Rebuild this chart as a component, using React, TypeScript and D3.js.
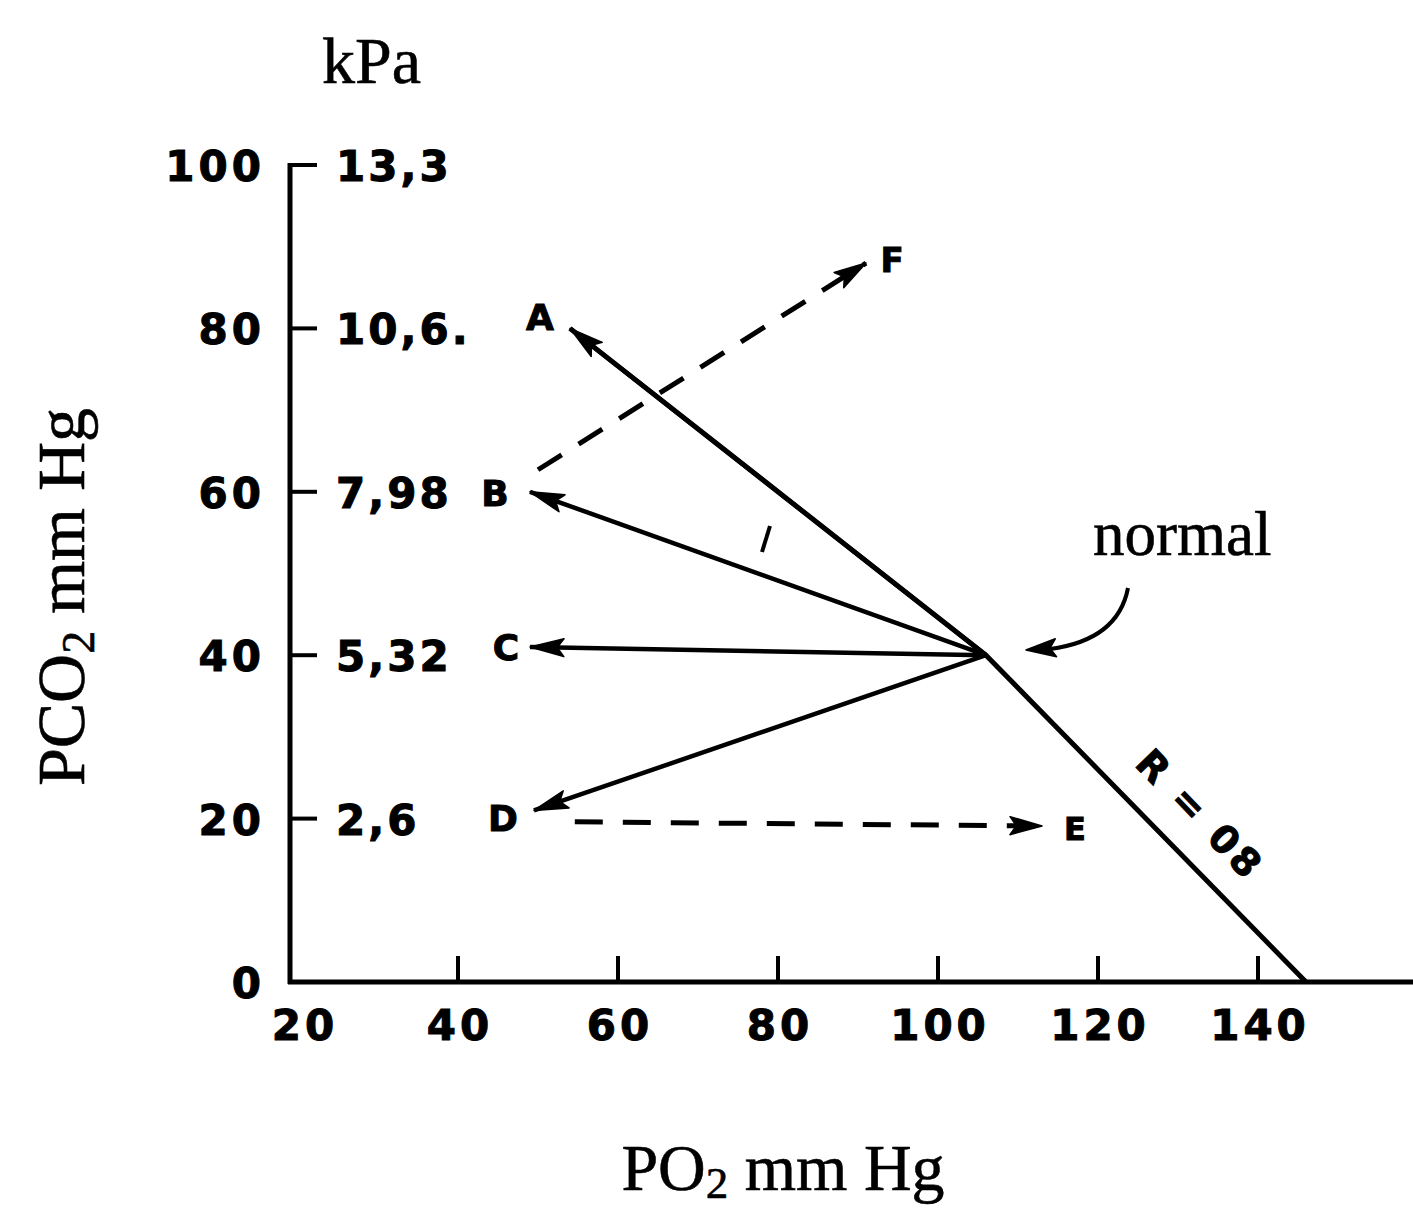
import React from "react";
import * as d3 from "d3";

// ---- data ----
const xTicks = [20, 40, 60, 80, 100, 120, 140];
const yTicks = [0, 20, 40, 60, 80, 100];
const kpaTicks = [20, 40, 60, 80, 100];
const kpaLabels = ["2,6", "5,32", "7,98", "10,6.", "13,3"];
const normalPoint = { x: 106, y: 40 };
const rLineEnd = { x: 146, y: 0 };
const solidNames = ["A", "B", "C", "D"];
const solidTipX = [54, 49, 49, 49.5];
const solidTipY = [80, 60, 41, 21];
const dashedNames = ["F", "E"];
const dashedFromX = [50, 54.6];
const dashedFromY = [62.7, 19.6];
const dashedToX = [91, 113];
const dashedToY = [88, 19.1];

// ---- layout ----
const W = 1413;
const H = 1208;
const labelOffset: Record<string, [number, number]> = {
  A: [-30, 2],
  B: [-35, 14],
  C: [-24, 13],
  D: [-31, 21],
  E: [33, 14],
  F: [26, 9],
};

const x = d3.scaleLinear().domain([20, 140]).range([298, 1258]);
const y = d3.scaleLinear().domain([0, 100]).range([982, 165]);

const SANS = "'DejaVu Sans', sans-serif";
const SERIF = "'Liberation Serif', 'Times New Roman', serif";

function arrowHead(tx: number, ty: number, fx: number, fy: number, len = 30, hw = 8) {
  const a = Math.atan2(ty - fy, tx - fx);
  const c = Math.cos(a), s = Math.sin(a);
  const bx = tx - len * c, by = ty - len * s;
  const nx = tx - len * 0.8 * c, ny = ty - len * 0.8 * s;
  const p1 = [bx - hw * s, by + hw * c];
  const p2 = [bx + hw * s, by - hw * c];
  return `M${tx},${ty}L${p1[0]},${p1[1]}L${nx},${ny}L${p2[0]},${p2[1]}Z`;
}

const numStyle = {
  fontFamily: SANS,
  fontWeight: "bold" as const,
  fontSize: 42,
  letterSpacing: 4,
  stroke: "#000",
  strokeWidth: 1,
};

export default function App() {
  const nx = x(normalPoint.x);
  const ny = y(normalPoint.y);
  const line = d3.line<[number, number]>();
  return (
    <svg width={W} height={H} style={{ display: "block", position: "absolute", left: 0, top: 0 }}>
      <rect width={W} height={H} fill="#fff" />
      {/* axes */}
      <line x1={290} y1={y(100) - 2} x2={290} y2={y(0) + 2} stroke="#000" strokeWidth={5} />
      <line x1={288} y1={y(0)} x2={W} y2={y(0)} stroke="#000" strokeWidth={5} />
      {xTicks.filter((v) => v > 20).map((v) => (
        <line key={"xt" + v} x1={x(v)} x2={x(v)} y1={y(0)} y2={y(0) - 26} stroke="#000" strokeWidth={4} />
      ))}
      {yTicks.filter((v) => v > 0).map((v) => (
        <line key={"yt" + v} x1={290} x2={317} y1={y(v)} y2={y(v)} stroke="#000" strokeWidth={4} />
      ))}
      {xTicks.map((v) => (
        <text key={"xl" + v} x={v === 20 ? 305 : x(v) + 2} y={1040} textAnchor="middle" {...numStyle}>{v}</text>
      ))}
      {yTicks.map((v) => (
        <text key={"yl" + v} x={265} y={y(v) + 16} textAnchor="end" {...numStyle}>{v}</text>
      ))}
      {kpaTicks.map((v, i) => (
        <text key={"kl" + v} x={336} y={y(v) + 16} {...numStyle} letterSpacing={3}>{kpaLabels[i]}</text>
      ))}
      {/* R line through A, normal, x-axis */}
      <path d={line([[x(solidTipX[0]), y(solidTipY[0])], [nx, ny], [x(rLineEnd.x), y(rLineEnd.y)]]) || ""}
        fill="none" stroke="#000" strokeWidth={5} strokeLinejoin="round" />
      {/* solid arrows */}
      {solidNames.map((n, i) => {
        const tx = x(solidTipX[i]), ty = y(solidTipY[i]);
        return (
          <g key={n}>
            <line x1={nx} y1={ny} x2={tx} y2={ty} stroke="#000" strokeWidth={4.5} />
            <path d={arrowHead(tx, ty, nx, ny, 34, 9)} fill="#000" stroke="#000" strokeWidth={1.5} strokeLinejoin="round" />
            <text x={tx + labelOffset[n][0]} y={ty + labelOffset[n][1]} textAnchor="middle"
              fontFamily={SANS} fontWeight="bold" fontSize={36} stroke="#000" strokeWidth={1}>{n}</text>
          </g>
        );
      })}
      {/* dashed arrows */}
      {dashedNames.map((n, i) => {
        const fx = x(dashedFromX[i]), fy = y(dashedFromY[i]);
        const tx = x(dashedToX[i]), ty = y(dashedToY[i]);
        return (
          <g key={n}>
            <line x1={fx} y1={fy} x2={tx} y2={ty} stroke="#000" strokeWidth={5} strokeDasharray="28,20" />
            <path d={arrowHead(tx, ty, fx, fy, 32, 9)} fill="#000" stroke="#000" strokeWidth={1.5} strokeLinejoin="round" />
            <text x={tx + labelOffset[n][0]} y={ty + labelOffset[n][1]} textAnchor="middle"
              fontFamily={SANS} fontWeight="bold" fontSize={n === "E" ? 32 : 34} stroke="#000" strokeWidth={1}>{n}</text>
          </g>
        );
      })}
      {/* small mark */}
      <line x1={762} y1={552} x2={770} y2={526} stroke="#000" strokeWidth={4} />
      {/* normal annotation */}
      <text x={1093} y={555} fontFamily={SERIF} fontSize={63} stroke="#000" strokeWidth={0.6}>normal</text>
      <path d="M1128,588 Q1118,640 1050,649" fill="none" stroke="#000" strokeWidth={4} />
      <path d={arrowHead(1026, 650, 1080, 646, 30, 9)} fill="#000" stroke="#000" strokeWidth={1.5} strokeLinejoin="round" />
      {/* R = 08 */}
      <text x={1200} y={828} textAnchor="middle" transform="rotate(46,1200,815)"
        fontFamily={SANS} fontWeight="bold" fontSize={38} letterSpacing={4} stroke="#000" strokeWidth={1}>R = 08</text>
      {/* axis titles */}
      <text x={322} y={83} fontFamily={SERIF} fontSize={66} stroke="#000" strokeWidth={0.6}>kPa</text>
      <text x={783} y={1190} textAnchor="middle" fontFamily={SERIF} fontSize={66} stroke="#000" strokeWidth={0.6}>
        PO<tspan fontSize={45} dy={8}>2</tspan><tspan dy={-8}> mm Hg</tspan>
      </text>
      <text transform="translate(84,597) rotate(-90)" textAnchor="middle" fontFamily={SERIF} fontSize={68} stroke="#000" strokeWidth={0.6}>
        PCO<tspan fontSize={46} dy={10}>2</tspan><tspan dy={-10}> mm Hg</tspan>
      </text>
    </svg>
  );
}
